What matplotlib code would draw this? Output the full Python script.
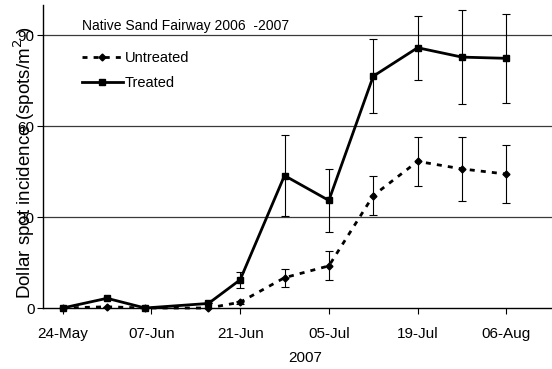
import matplotlib
matplotlib.use('Agg')
import matplotlib.pyplot as plt
import numpy as np
from datetime import date

plt.rcParams['font.family'] = ['Liberation Sans', 'DejaVu Sans']

# sampling dates (2007) and dollar spot counts
sample_dates = ['2007-05-24', '2007-05-31', '2007-06-06', '2007-06-16', '2007-06-21',
                '2007-06-28', '2007-07-05', '2007-07-12', '2007-07-19', '2007-07-26',
                '2007-08-02']
untreated = [0, 0.4, 0, 0, 1.9, 10.0, 13.9, 37.1, 48.4, 45.9, 44.2]
untreated_err = [0, 0, 0, 0, 0.5, 3.0, 4.8, 6.4, 8.2, 10.5, 9.5]
treated = [0, 3.2, 0, 1.5, 9.3, 43.7, 35.5, 76.5, 85.9, 82.8, 82.4]
treated_err = [0, 0, 0, 0, 2.6, 13.3, 10.3, 12.3, 10.6, 15.5, 14.6]

tick_dates = ['2007-05-24', '2007-06-07', '2007-06-21', '2007-07-05', '2007-07-19', '2007-08-02']
tick_labels = ['24-May', '07-Jun', '21-Jun', '05-Jul', '19-Jul', '06-Aug']
y_ticks = [0, 30, 60, 90]

start = date.fromisoformat(sample_dates[0])


def to_day(s):
    return (date.fromisoformat(s) - start).days


x = np.array([to_day(d) for d in sample_dates])
xt = [to_day(d) for d in tick_dates]

fig = plt.figure(figsize=(5.52, 3.69), dpi=100)
ax = fig.add_axes([43 / 552, 1 - 308 / 369, 1 - 43 / 552, (308 - 5) / 369])

for yv in y_ticks[1:]:
    ax.axhline(yv, color='#3a3a3a', lw=0.9, zorder=1)

ax.errorbar(x, untreated, yerr=untreated_err, fmt='none', ecolor='black',
            elinewidth=0.8, capsize=3, capthick=0.8, zorder=2)
ax.errorbar(x, treated, yerr=treated_err, fmt='none', ecolor='black',
            elinewidth=0.8, capsize=3, capthick=0.8, zorder=2)

ax.plot(x, untreated, color='black', lw=2, linestyle=(0, (1.8, 2.2)),
        marker='D', markersize=3.5, label='Untreated', zorder=3, clip_on=False)
ax.plot(x, treated, color='black', lw=2, linestyle='-',
        marker='s', markersize=5, label='Treated', zorder=4, clip_on=False)

ax.set_xlim(-3.1, 77.2)
ax.set_ylim(0, 100)
ax.set_yticks(y_ticks)
ax.set_xticks(xt)
ax.set_xticklabels(tick_labels)
ax.tick_params(axis='both', labelsize=11, length=4, width=0.8, direction='out')
ax.tick_params(axis='y', pad=2)
ax.tick_params(axis='x', pad=10)

for side in ['top', 'right']:
    ax.spines[side].set_visible(False)
for side in ['left', 'bottom']:
    ax.spines[side].set_linewidth(1.0)

ax.set_xlabel('2007', fontsize=11)
ax.xaxis.set_label_coords((305 - 43) / 509, -(351 - 308) / 303)
ax.set_ylabel('Dollar spot incidence (spots/m$^2$ )', fontsize=13.5)
ax.yaxis.set_label_coords(-(43 - 37) / 509, 0.48)

ax.text((82 - 43) / 509, (308 - 26) / 303, 'Native Sand Fairway 2006  -2007',
        transform=ax.transAxes, fontsize=10, va='center', ha='left')

ax.legend(loc='upper left', bbox_to_anchor=((82 - 43) / 509, (308 - 51) / 303),
          frameon=False, fontsize=10.5, handlelength=2.8, handletextpad=0.15,
          labelspacing=0.75, borderpad=0, borderaxespad=0, numpoints=1)

fig.savefig('out.png', dpi=100)
